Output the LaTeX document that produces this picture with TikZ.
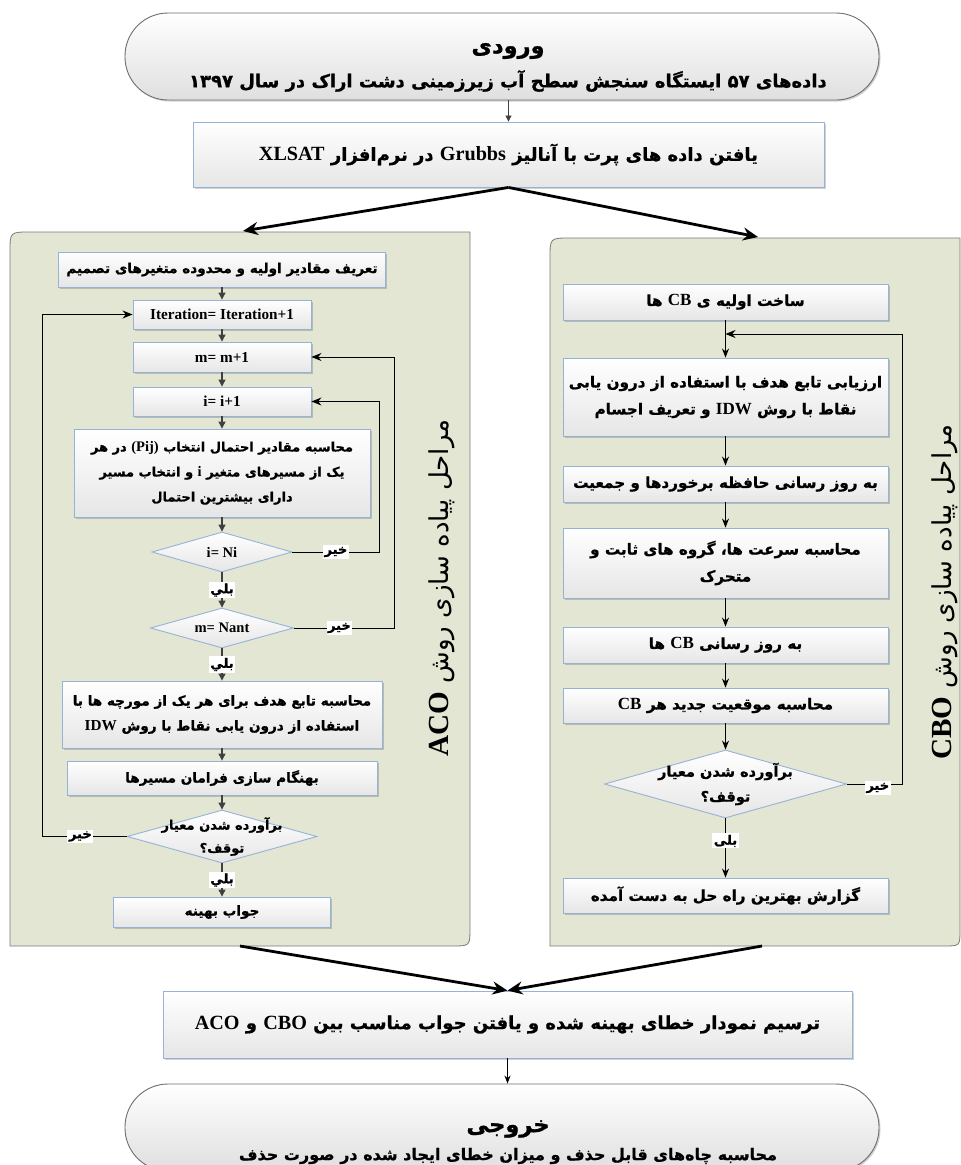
\documentclass[tikz,border=0pt]{standalone}
\usepackage{fontspec}
\usetikzlibrary{shapes.geometric,arrows.meta,shadows}
\TeXXeTstate=1
\newfontfamily\faf[Script=Arabic, BoldFeatures={FakeBold=1}]{DejaVu Sans}
\newfontfamily\enf[Scale=1.12]{Liberation Serif}
\newcommand\fa[1]{{\faf\beginR #1\endR}}
\newcommand\en[1]{\beginL{\enf\bfseries #1}\endL}
\definecolor{panelc}{RGB}{226,230,210}
\definecolor{panelb}{RGB}{120,120,120}
\definecolor{boxb}{RGB}{149,179,215}
\definecolor{boxg}{RGB}{230,230,230}
\definecolor{arrg}{RGB}{64,64,64}
\definecolor{termb}{RGB}{110,110,110}
\newcommand\bxf{\bfseries\fontsize{13.6}{25}\selectfont}
\newcommand\bxs{\bfseries\fontsize{13}{25}\selectfont}
\newcommand\rxf{\bfseries\fontsize{15.2}{27}\selectfont}
\newcommand\bigf{\bfseries\fontsize{18}{25}\selectfont}
\newcommand\lbf{\bfseries\fontsize{13}{15}\selectfont}
\tikzset{
  panel/.style={fill=panelc, draw=panelb, line width=0.8pt},
  box/.style={draw=boxb, line width=0.9pt, top color=white, bottom color=boxg,
    align=center, inner sep=1pt, font=\bxf,
    drop shadow={shadow xshift=1.5pt, shadow yshift=-1.5pt, opacity=0.18, fill=black}},
  rbox/.style={box, font=\rxf, minimum width=325pt},
  dia/.style={diamond, draw=boxb, line width=0.9pt, top color=white, bottom color=boxg, inner sep=0pt},
  diatext/.style={align=center, font=\bxs, inner sep=0pt},
  term/.style={draw=termb, line width=0.9pt, top color=white, bottom color=gray!25,
    rounded corners=43pt,
    drop shadow={shadow xshift=1.5pt, shadow yshift=-1.5pt, opacity=0.18, fill=black}},
  garr/.style={draw=arrg, line width=1.1pt, -{Triangle[length=7pt,width=7pt]}},
  barr/.style={draw=black, line width=0.9pt, -{Stealth[length=9pt,width=7pt]}},
  fb/.style={draw=black, line width=1pt, -{Stealth[length=10pt,width=8pt]}},
  bigarr/.style={draw=black, line width=2.8pt, -{Stealth[length=15pt,width=13pt]}},
  lbl/.style={fill=white, inner sep=1.5pt, font=\lbf},
  vtxt/.style={rotate=90, font=\fontsize{26}{30}\selectfont, inner sep=0pt}
}
\begin{document}
\begin{tikzpicture}[x=1pt,y=-1pt]
\useasboundingbox (0,0) rectangle (961,1165);

% panels
\filldraw[panel] (10,946) -- (10,252) .. controls (10,232) .. (30,232) -- (470,232) -- (470,928) .. controls (470,946) .. (452,946) -- cycle;
\filldraw[panel] (550,946) -- (550,258) .. controls (550,238) .. (570,238) -- (960,238) -- (960,930) .. controls (960,946) .. (944,946) -- cycle;
\node[vtxt] (acolbl) at (442,588) {\fa{مراحل پیاده سازی روش \en{ACO}}};
\node[vtxt] (cbolbl) at (945,592) {\fa{مراحل پیاده سازی روش \en{CBO}}};

% top
\node[term, minimum width=754pt, minimum height=87pt] (t0) at (502,56.5) {};
\node[font=\bfseries\fontsize{22.5}{26}\selectfont, inner sep=0pt] (t0a) at (508,51) {\fa{ورودی}};
\node[font=\bfseries\fontsize{18}{22}\selectfont, inner sep=0pt] (t0b) at (508,81) {\fa{داده‌های ۵۷ ایستگاه سنجش سطح آب زیرزمینی دشت اراک در سال ۱۳۹۷}};
\node[box, font=\bigf, minimum width=631pt, minimum height=65pt] (g0) at (508.5,154.5) {\fa{یافتن داده های پرت با آنالیز \en{Grubbs} در نرم‌افزار \en{XLSAT}}};
\draw[draw=arrg, line width=0.8pt, -{Triangle[length=6pt,width=6pt]}] (t0.south -| g0.north) -- (g0.north);

\coordinate (ltop) at (243,231);
\coordinate (rtop) at (758,237);
\draw[bigarr] (g0.south) -- (ltop);
\draw[bigarr] (g0.south) -- (rtop);

% left column
\node[box, minimum width=327pt, minimum height=35pt] (l1) at (222,269.5) {\fa{تعریف مقادیر اولیه و محدوده متغیرهای تصمیم}};
\node[box, minimum width=178pt, minimum height=29pt] (l2) at (222,314.5) {\en{Iteration= Iteration+1}};
\node[box, minimum width=178pt, minimum height=30pt] (l3) at (222,357) {\en{m= m+1}};
\node[box, minimum width=178pt, minimum height=29pt] (l4) at (222,401.5) {\en{i= i+1}};
\node[box, font=\bxs, minimum width=296pt, minimum height=88pt] (l5) at (222,473) {\fa{محاسبه مقادیر احتمال انتخاب \en{(Pij)} در هر}\\\fa{یک از مسیرهای متغیر \en{i} و انتخاب مسیر}\\\fa{دارای بیشترین احتمال}};
\node[dia, minimum width=140pt, minimum height=40pt] (d1) at (222,552) {};
\node[diatext] (d1t) at (d1) {\en{i= Ni}};
\node[dia, minimum width=143pt, minimum height=40pt] (d2) at (222,628) {};
\node[diatext] (d2t) at (d2) {\en{m= Nant}};
\node[box, minimum width=320pt, minimum height=67pt] (l6) at (222,714.5) {\fa{محاسبه تابع هدف برای هر یک از مورچه ها با}\\\fa{استفاده از درون یابی نقاط با روش \en{IDW}}};
\node[box, minimum width=310pt, minimum height=34pt] (l7) at (222,778) {\fa{بهنگام سازی فرامان مسیرها}};
\node[dia, minimum width=190pt, minimum height=53pt] (d3) at (222,836.5) {};
\node[diatext, font=\bfseries\fontsize{13}{23}\selectfont] (d3t) at (d3) {\fa{برآورده شدن معیار}\\\fa{توقف؟}};
\node[box, minimum width=217pt, minimum height=30pt] (l8) at (222,912) {\fa{جواب بهینه}};

\draw[garr] (l1) -- (l2);
\draw[garr] (l2) -- (l3);
\draw[garr] (l3) -- (l4);
\draw[garr] (l4) -- (l5);
\draw[garr] (l5) -- (d1);
\draw[garr] (d1) -- node[lbl] {\fa{بلي}} (d2);
\draw[garr] (d2) -- node[lbl] {\fa{بلي}} (l6);
\draw[garr] (l6) -- (l7);
\draw[garr] (l7) -- (d3);
\draw[garr] (d3) -- node[lbl] {\fa{بلي}} (l8);

\draw[fb] (d1.east) -- node[lbl] {\fa{خیر}} ++(87,0) |- (l4.east);
\draw[fb] (d2.east) -- node[lbl, pos=0.45] {\fa{خیر}} ++(101,0) |- (l3.east);
\draw[fb] (d3.west) -- node[lbl, pos=0.55] {\fa{خیر}} ++(-84,0) |- (l2.west);

% right column
\node[rbox, minimum height=36pt] (r1) at (725.5,302) {\fa{ساخت اولیه ی \en{CB} ها}};
\node[rbox, minimum height=78pt] (r2) at (725.5,397) {\fa{ارزیابی تابع هدف با استفاده از درون یابی}\\\fa{نقاط با روش \en{IDW} و تعریف اجسام}};
\node[rbox, minimum height=36pt] (r3) at (725.5,484) {\fa{به روز رسانی حافظه برخوردها و جمعیت}};
\node[rbox, minimum height=70pt] (r4) at (725.5,563) {\fa{محاسبه سرعت ها، گروه های ثابت و}\\\fa{متحرک}};
\node[rbox, minimum height=36pt] (r5) at (725.5,645) {\fa{به روز رسانی \en{CB} ها}};
\node[rbox, minimum height=35pt] (r6) at (725.5,705.5) {\fa{محاسبه موقعیت جدید هر \en{CB}}};
\node[dia, minimum width=242pt, minimum height=68pt] (rd) at (725.5,784) {};
\node[diatext, font=\bfseries\fontsize{14.5}{25}\selectfont] (rdt) at (rd) {\fa{برآورده شدن معیار}\\\fa{توقف؟}};
\node[rbox, minimum height=35pt] (r7) at (725.5,895.5) {\fa{گزارش بهترین راه حل به دست آمده}};

\coordinate (fbin) at (725.5,334);
\draw[barr] (r1) -- (r2);
\draw[barr] (r2) -- (r3);
\draw[barr] (r3) -- (r4);
\draw[barr] (r4) -- (r5);
\draw[barr] (r5) -- (r6);
\draw[barr] (r6) -- (rd);
\draw[barr] (rd) -- node[lbl, pos=0.38] {\fa{بلی}} (r7);
\draw[fb] (rd.east) -- node[lbl, pos=0.55, yshift=-4pt] {\fa{خیر}} ++(56,0) |- (fbin);

% bottom
\node[box, font=\bigf, minimum width=689pt, minimum height=67pt] (b0) at (507.5,1024.5) {\fa{ترسیم نمودار خطای بهینه شده و یافتن جواب مناسب بین \en{CBO} و \en{ACO}}};
\coordinate (lbot) at (240,946);
\coordinate (rbot) at (762,946);
\draw[bigarr] (lbot) -- (b0.north);
\draw[bigarr] (rbot) -- (b0.north);

\node[term, minimum width=754pt, minimum height=87pt] (t1) at (502,1127.5) {};
\node[font=\bfseries\fontsize{22.5}{26}\selectfont, inner sep=0pt] (t1a) at (508,1129) {\fa{خروجی}};
\node[font=\bfseries\fontsize{16}{20}\selectfont, inner sep=0pt] (t1b) at (508,1156) {\fa{محاسبه چاه‌های قابل حذف و میزان خطای ایجاد شده در صورت حذف}};
\draw[draw=black, line width=0.9pt, -{Stealth[length=8pt,width=6pt]}] (b0.south) -- (b0.south |- t1.north);
\end{tikzpicture}
\end{document}
